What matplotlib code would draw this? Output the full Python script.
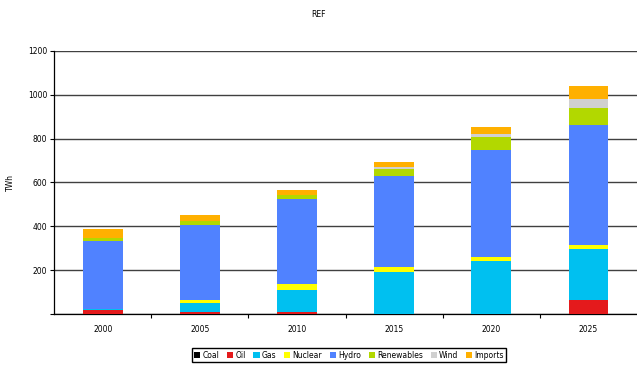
import numpy as np
import matplotlib.pyplot as plt

years = ["2000", "2005", "2010", "2015", "2020", "2025"]
coal = [0, 0, 0, 0, 0, 0]
oil = [20, 8, 8, 2, 2, 64]
gas = [5, 42, 103, 191, 240, 233]
nuclear = [0, 14, 27, 20, 20, 20]
hydro = [308, 340, 385, 418, 488, 543]
renewables = [14, 18, 18, 32, 55, 78]
wind = [0, 2, 4, 9, 15, 43]
imports = [42, 29, 20, 20, 35, 61]

names = ["Coal", "Oil", "Gas", "Nuclear", "Hydro", "Renewables", "Wind", "Imports"]
colors = ["#000000", "#e41a1c", "#00c0f0", "#ffff00", "#5082ff",
          "#b2d800", "#d0d0d0", "#ffb000"]


def main():
    plt.rcParams['font.family'] = ['DejaVu Sans']
    fig = plt.figure(figsize=(6.37, 3.66), dpi=100)
    ax = fig.add_axes([0.085, 0.142, 0.915, 0.719])

    series = [coal, oil, gas, nuclear, hydro, renewables, wind, imports]
    x = np.arange(len(years))
    bottom = np.zeros(len(years))
    for vals, name, col in zip(series, names, colors):
        ax.bar(x, vals, width=0.41, bottom=bottom, color=col, label=name,
               edgecolor="none", zorder=3)
        bottom += np.array(vals)

    ax.set_xlim(-0.5, 5.5)
    ax.set_ylim(0, 1200)
    ax.set_yticks(range(0, 1201, 200))
    ax.set_yticklabels(["", "200", "400", "600", "800", "1000", "1200"])
    ax.set_xticks(x)
    ax.set_xticklabels(years)
    ax.set_xticks(np.arange(0.5, 5.5, 1), minor=True)
    ax.tick_params(axis="x", which="major", length=0, labelsize=5.5, pad=8)
    ax.tick_params(axis="x", which="minor", length=3, width=0.8, direction="out")
    ax.tick_params(axis="y", length=3, width=0.8, labelsize=5.5, pad=2)
    ax.yaxis.grid(True, color="#404040", linewidth=1, zorder=0)
    for s in ["top", "right"]:
        ax.spines[s].set_visible(False)
    for s in ["left", "bottom"]:
        ax.spines[s].set_linewidth(0.9)
    ax.set_ylabel("TWh", fontsize=5.5)
    ax.yaxis.set_label_coords(-0.068, 0.5)

    fig.suptitle("REF", fontsize=5.5, y=0.972)

    ax.legend(loc="center", bbox_to_anchor=(0.506, -0.156), ncol=8,
              fontsize=5.5, frameon=True, fancybox=False, edgecolor="black",
              handlelength=0.8, handleheight=0.8, handletextpad=0.3,
              columnspacing=1.0, borderpad=0.3, framealpha=1)

    fig.savefig("out.png", dpi=100)


if __name__ == '__main__':
    main()
